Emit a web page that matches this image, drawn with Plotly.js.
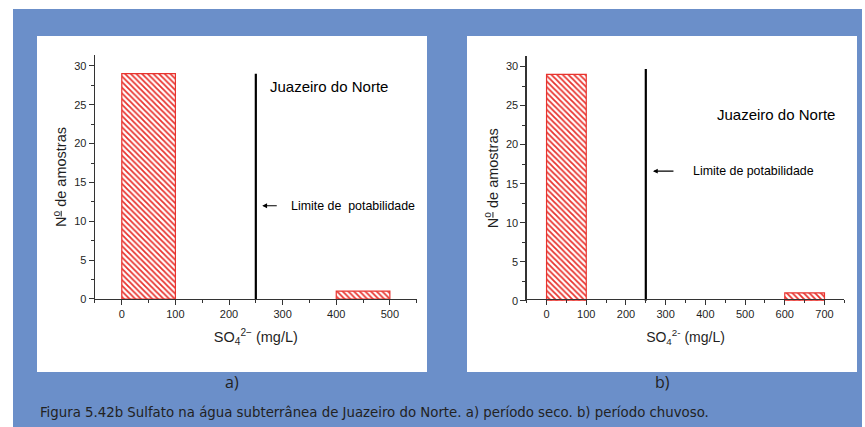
<!DOCTYPE html>
<html>
<head>
<meta charset="utf-8">
<script src="https://cdn.plot.ly/plotly-3.0.1.min.js"></script>
<style>
  html, body { margin: 0; padding: 0; background: #fff; }
  #graph { width: 865px; height: 427px; }
</style>
</head>
<body>
<div id="graph"></div>
<script>
// a) periodo seco
var binStartsA = [0, 400];
var countsA = [29, 1];
// b) periodo chuvoso
var binStartsB = [0, 600];
var countsB = [29, 1];
var binWidth = 100;

var limitValue = 250;
var limitTopA = 29;
var limitTopB = 29.7;

var tickValsA = [0, 100, 200, 300, 400, 500];
var tickValsB = [0, 100, 200, 300, 400, 500, 600, 700];
var yTickVals = [0, 5, 10, 15, 20, 25, 30];

var red = '#e8332e';
var ink = '#1f1f1f';
var blue = '#6b8fc9';

function barTrace(starts, counts, xa, ya) {
    return {
        type: 'bar',
        x: starts.map(s => s + binWidth / 2),
        y: counts,
        width: binWidth,
        xaxis: xa,
        yaxis: ya,
        marker: {
            color: '#ffffff',
            line: { color: red, width: 1.2 },
            pattern: { shape: '\\', fgcolor: red, bgcolor: '#ffffff', size: 4, solidity: 0.45 }
        },
        hoverinfo: 'x+y',
        showlegend: false
    };
}

function limitTrace(top, xa, ya) {
    return {
        type: 'scatter',
        mode: 'lines',
        x: [limitValue, limitValue],
        y: [0, top],
        xaxis: xa,
        yaxis: ya,
        line: { color: '#000000', width: 2.2 },
        hoverinfo: 'x',
        showlegend: false
    };
}

var tickFont = { family: 'Liberation Sans, Arial, sans-serif', size: 11, color: ink };

function xAxis(domain, range, tickvals, titleSize, sup) {
    return {
        domain: domain,
        range: range,
        tickvals: tickvals,
        ticks: 'outside',
        ticklen: 5,
        tickwidth: 1,
        tickcolor: '#333',
        minor: { ticks: 'outside', dtick: 50, tick0: 0, ticklen: 3, tickcolor: '#333' },
        showline: true,
        linecolor: '#333',
        linewidth: 1.3,
        showgrid: false,
        zeroline: false,
        tickfont: tickFont,
        title: {
            text: 'SO<sub>4</sub><sup>' + sup + '</sup> (mg/L)',
            font: { family: 'Liberation Sans, Arial, sans-serif', size: titleSize, color: ink },
            standoff: 12
        },
        fixedrange: true
    };
}

function yAxis(domain, anchor) {
    return {
        domain: domain,
        anchor: anchor,
        range: [0, 31.4],
        tickvals: yTickVals,
        ticks: 'outside',
        ticklen: 5,
        tickwidth: 1,
        tickcolor: '#333',
        minor: { ticks: 'outside', dtick: 2.5, tick0: 0, ticklen: 3, tickcolor: '#333' },
        showline: true,
        linecolor: '#333',
        linewidth: 1.3,
        showgrid: false,
        zeroline: false,
        tickfont: tickFont,
        title: {
            text: 'N<span style="text-decoration:underline"><sup>o</sup></span> de amostras',
            font: { family: 'Liberation Sans, Arial, sans-serif', size: 14.5, color: ink },
            standoff: 4
        },
        fixedrange: true
    };
}

var data = [
    barTrace(binStartsA, countsA, 'x', 'y'),
    limitTrace(limitTopA, 'x', 'y'),
    barTrace(binStartsB, countsB, 'x2', 'y2'),
    limitTrace(limitTopB, 'x2', 'y2')
];

var noteFont = { family: 'Liberation Sans, Arial, sans-serif', size: 12.4, color: '#000' };
var placeFont = { family: 'Liberation Sans, Arial, sans-serif', size: 15, color: '#000' };

var layout = {
    width: 865,
    height: 427,
    margin: { l: 0, r: 0, t: 0, b: 0 },
    paper_bgcolor: '#ffffff',
    plot_bgcolor: 'rgba(0,0,0,0)',
    showlegend: false,
    xaxis: xAxis([0.1098, 0.4817], [-50, 550], tickValsA, 14.5, '2\u2212'),
    yaxis: yAxis([0.2998, 0.8712], 'x'),
    xaxis2: xAxis([0.6089, 0.9761], [-50, 750], tickValsB, 14, '2-'),
    yaxis2: yAxis([0.2958, 0.8696], 'x2'),
    shapes: [
        { type: 'rect', xref: 'paper', yref: 'paper', x0: 13 / 865, x1: 862 / 865, y0: 0, y1: 1 - 9 / 427,
          fillcolor: blue, line: { width: 0 }, layer: 'below' },
        { type: 'rect', xref: 'paper', yref: 'paper', x0: 37 / 865, x1: 427 / 865, y0: 1 - 372 / 427, y1: 1 - 36 / 427,
          fillcolor: '#ffffff', line: { width: 0 }, layer: 'below' },
        { type: 'rect', xref: 'paper', yref: 'paper', x0: 467 / 865, x1: 857 / 865, y0: 1 - 372 / 427, y1: 1 - 36 / 427,
          fillcolor: '#ffffff', line: { width: 0 }, layer: 'below' }
    ],
    annotations: [
        { xref: 'x', yref: 'y', x: 273, y: 27.4, xanchor: 'left', yanchor: 'middle',
          text: 'Juazeiro do Norte', showarrow: false, font: placeFont },
        { xref: 'x', yref: 'y', x: 311, y: 12, xanchor: 'left', yanchor: 'middle',
          text: 'Limite de&nbsp; potabilidade', showarrow: false, font: noteFont },
        { xref: 'x', yref: 'y', x: 262, y: 12, text: '', showarrow: true,
          ax: 16, ay: 0, arrowhead: 2, arrowsize: 0.8, arrowwidth: 1.2, arrowcolor: '#000' },

        { xref: 'x2', yref: 'y2', x: 425, y: 23.9, xanchor: 'left', yanchor: 'middle',
          text: 'Juazeiro do Norte', showarrow: false, font: placeFont },
        { xref: 'x2', yref: 'y2', x: 363, y: 16.6, xanchor: 'left', yanchor: 'middle',
          text: 'Limite de potabilidade', showarrow: false, font: noteFont },
        { xref: 'x2', yref: 'y2', x: 268, y: 16.6, text: '', showarrow: true,
          ax: 22, ay: 0, arrowhead: 2, arrowsize: 0.8, arrowwidth: 1.2, arrowcolor: '#000' },

        { xref: 'paper', yref: 'paper', x: 232 / 865, y: 1 - 382 / 427, xanchor: 'center', yanchor: 'middle',
          text: 'a)', showarrow: false, font: { family: 'Open Sans, sans-serif', size: 16, color: '#222' } },
        { xref: 'paper', yref: 'paper', x: 662 / 865, y: 1 - 382 / 427, xanchor: 'center', yanchor: 'middle',
          text: 'b)', showarrow: false, font: { family: 'Open Sans, sans-serif', size: 16, color: '#222' } },
        { xref: 'paper', yref: 'paper', x: 38 / 865, y: 1 - 411 / 427, xanchor: 'left', yanchor: 'middle',
          text: 'Figura 5.42b Sulfato na água subterrânea de Juazeiro do Norte. a) período seco. b) período chuvoso.',
          showarrow: false,
          font: { family: 'Liberation Sans Narrow, DejaVu Sans Condensed, sans-serif', size: 14.8, color: '#222' } }
    ]
};

Plotly.newPlot('graph', data, layout, { displayModeBar: false, staticPlot: true });
</script>
</body>
</html>
